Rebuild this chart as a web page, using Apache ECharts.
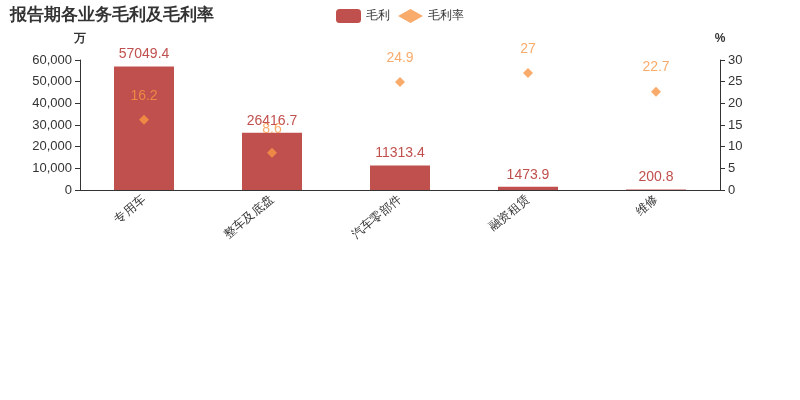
<!DOCTYPE html>
<html>
<head>
<meta charset="utf-8">
<script src="https://cdn.jsdelivr.net/npm/echarts@6/dist/echarts.min.js"></script>
<style>html,body{margin:0;padding:0;}#main{width:800px;height:400px;}</style>
</head>
<body>
<div id="main"></div>
<script>
// 各业务名称
var categories = ['专用车', '整车及底盘', '汽车零部件', '融资租赁', '维修'];
// 毛利（万）
var grossProfit = [57049.4, 26416.7, 11313.4, 1473.9, 200.8];
// 毛利率（%）
var grossMargin = [16.2, 8.6, 24.9, 27, 22.7];

var option = {
    title: {
        text: '报告期各业务毛利及毛利率',
        left: 5, top: 2,
        textStyle: {fontSize: 17, fontWeight: 'bold', color: '#333'}
    },
    legend: {
        top: 4, left: 'center',
        itemWidth: 25, itemHeight: 14,
        textStyle: {fontSize: 12, color: '#333'},
        data: ['毛利', '毛利率']
    },
    grid: {left: 80, right: 80, top: 60, bottom: 210},
    xAxis: {
        type: 'category',
        data: categories,
        axisTick: {alignWithLabel: false},
        axisLine: {lineStyle: {color: '#333'}},
        axisLabel: {rotate: 40, fontFamily: 'serif', color: '#333', fontSize: 12}
    },
    yAxis: [{
        type: 'value', name: '万', min: 0, max: 60000, interval: 10000,
        nameTextStyle: {fontWeight: 'bold', color: '#333', padding: [0, 0, 0, 0]},
        axisLine: {show: true, lineStyle: {color: '#333'}},
        axisTick: {show: true},
        splitLine: {show: false},
        axisLabel: {fontSize: 13, color: '#333', formatter: function (v) { return v.toLocaleString('en-US'); }}
    }, {
        type: 'value', name: '%', min: 0, max: 30, interval: 5,
        nameTextStyle: {fontWeight: 'bold', color: '#333'},
        axisLine: {show: true, lineStyle: {color: '#333'}},
        axisTick: {show: true},
        splitLine: {show: false},
        axisLabel: {fontSize: 13, color: '#333'}
    }],
    series: [{
        name: '毛利', type: 'bar', barWidth: 60,
        itemStyle: {color: '#c0504d'},
        label: {show: true, position: 'top', color: '#c0504d', fontSize: 14},
        data: grossProfit
    }, {
        name: '毛利率', type: 'scatter', yAxisIndex: 1,
        symbol: 'diamond', symbolSize: 10,
        itemStyle: {color: '#f79646'},
        label: {show: true, position: 'top', distance: 12, color: '#f79646', fontSize: 14},
        data: grossMargin
    }]
};
echarts.init(document.getElementById('main')).setOption(option);
</script>
</body>
</html>
